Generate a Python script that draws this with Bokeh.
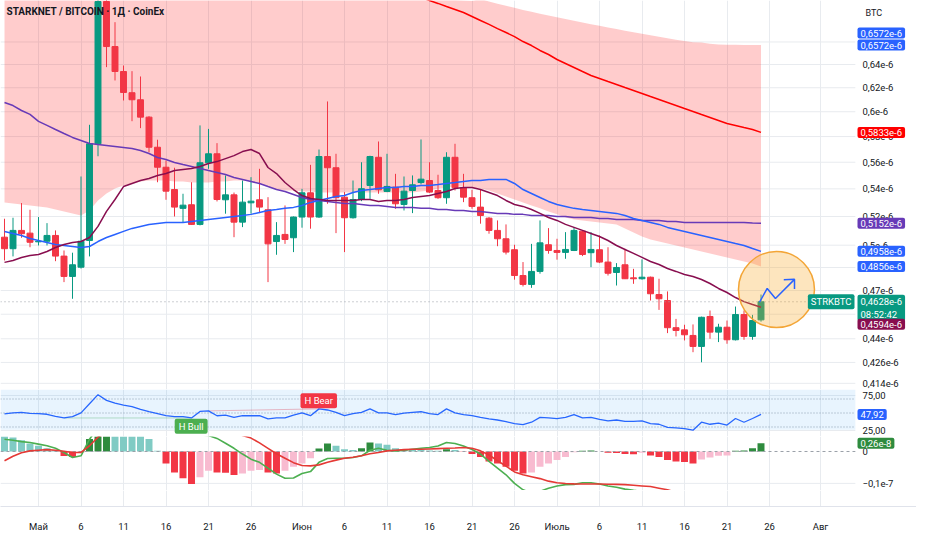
from bokeh.plotting import figure
from bokeh.layouts import column
from bokeh.models import Range1d, FixedTicker, Grid, Label, BoxAnnotation, ColumnDataSource
from bokeh.embed import file_html
from bokeh.resources import INLINE

# ---------------- data (prices in units of 1e-6 BTC) ----------------
# day index relative to 1 May (0 = 1 May ... 85 = 25 July)
day = list(range(-4, 86))

open_ = [0.5055, 0.4976, 0.5102, 0.5083, 0.5023, 0.5027, 0.5067, 0.4926, 0.4791, 0.4852,
         0.5032, 0.5743, 0.6975, 0.6559, 0.6339, 0.6158, 0.6099, 0.5956, 0.5716, 0.5562,
         0.5395, 0.5258, 0.5284, 0.5144, 0.5596, 0.5665, 0.5320, 0.5356, 0.5160, 0.5298,
         0.5320, 0.5248, 0.5025, 0.5074, 0.5051, 0.5196, 0.5371, 0.5196, 0.5644, 0.5558,
         0.5339, 0.5191, 0.5322, 0.5425, 0.5638, 0.5381, 0.5413, 0.5286, 0.5388, 0.5447,
         0.5462, 0.5388, 0.5335, 0.5638, 0.5408, 0.5335, 0.5267, 0.5188, 0.5102, 0.5044,
         0.4969, 0.4797, 0.4739, 0.4824, 0.5003, 0.4964, 0.4951, 0.4964, 0.5097, 0.4949,
         0.4969, 0.4886, 0.4817, 0.4868, 0.4782, 0.4776, 0.4786, 0.4674, 0.4636, 0.4467,
         0.4454, 0.4420, 0.4354, 0.4536, 0.4440, 0.4470, 0.4394, 0.4548, 0.4414, 0.4515]
high = [0.5184, 0.5191, 0.5296, 0.5248, 0.5196, 0.5153, 0.5102, 0.4964, 0.4949, 0.5492,
        0.5894, 0.7400, 0.7050, 0.6781, 0.6391, 0.6342, 0.6296, 0.5964, 0.5775, 0.5613,
        0.5558, 0.5364, 0.5449, 0.5889, 0.5861, 0.5748, 0.5500, 0.5373, 0.5462, 0.5487,
        0.5550, 0.5339, 0.5160, 0.5279, 0.5200, 0.5400, 0.5580, 0.5698, 0.6085, 0.5665,
        0.5376, 0.5462, 0.5600, 0.5650, 0.5761, 0.5665, 0.5512, 0.5492, 0.5500, 0.5777,
        0.5600, 0.5505, 0.5677, 0.5743, 0.5512, 0.5393, 0.5393, 0.5196, 0.5172, 0.5144,
        0.5003, 0.4886, 0.5009, 0.5172, 0.5118, 0.5044, 0.5090, 0.5125, 0.5100, 0.5090,
        0.5067, 0.4986, 0.4879, 0.4975, 0.4841, 0.4904, 0.4790, 0.4776, 0.4694, 0.4521,
        0.4485, 0.4487, 0.4535, 0.4573, 0.4491, 0.4511, 0.4598, 0.4573, 0.4546, 0.4674]
low = [0.4897, 0.4924, 0.5051, 0.4986, 0.4998, 0.4998, 0.4892, 0.4754, 0.4647, 0.4843,
       0.4924, 0.5646, 0.6377, 0.6262, 0.6093, 0.5923, 0.5867, 0.5677, 0.5449, 0.5320,
       0.5200, 0.5160, 0.5141, 0.5137, 0.5550, 0.5308, 0.5220, 0.5055, 0.5125, 0.5220,
       0.5224, 0.4754, 0.4935, 0.5009, 0.4953, 0.5121, 0.5114, 0.5190, 0.5291, 0.5083,
       0.4953, 0.5185, 0.5310, 0.5327, 0.5364, 0.5376, 0.5255, 0.5243, 0.5224, 0.5433,
       0.5370, 0.5327, 0.5291, 0.5388, 0.5303, 0.5255, 0.5149, 0.5079, 0.4993, 0.4937,
       0.4770, 0.4726, 0.4717, 0.4809, 0.4942, 0.4902, 0.4908, 0.4960, 0.4926, 0.4852,
       0.4879, 0.4797, 0.4732, 0.4774, 0.4743, 0.4770, 0.4636, 0.4577, 0.4434, 0.4414,
       0.4390, 0.4320, 0.4261, 0.4400, 0.4380, 0.4370, 0.4390, 0.4394, 0.4394, 0.4504]
close = [0.4976, 0.5102, 0.5079, 0.5020, 0.5027, 0.5067, 0.4926, 0.4791, 0.4868, 0.5027,
         0.5743, 0.6975, 0.6559, 0.6339, 0.6160, 0.6099, 0.5956, 0.5716, 0.5562, 0.5383,
         0.5267, 0.5281, 0.5144, 0.5596, 0.5665, 0.5322, 0.5356, 0.5160, 0.5303, 0.5310,
         0.5267, 0.5009, 0.5067, 0.5039, 0.5196, 0.5371, 0.5196, 0.5644, 0.5558, 0.5335,
         0.5191, 0.5322, 0.5401, 0.5644, 0.5393, 0.5418, 0.5291, 0.5383, 0.5430, 0.5472,
         0.5376, 0.5335, 0.5638, 0.5408, 0.5339, 0.5272, 0.5207, 0.5102, 0.5044, 0.4953,
         0.4797, 0.4739, 0.4824, 0.5016, 0.4964, 0.4951, 0.4971, 0.5102, 0.4937, 0.4971,
         0.4886, 0.4812, 0.4850, 0.4776, 0.4776, 0.4786, 0.4679, 0.4647, 0.4467, 0.4450,
         0.4424, 0.4354, 0.4531, 0.4440, 0.4470, 0.4394, 0.4548, 0.4414, 0.4511, 0.4628]

ma_short = [0.4884, 0.4897, 0.4917, 0.4930, 0.4937, 0.4957, 0.4984, 0.5005, 0.5018, 0.5025,
            0.5053, 0.5130, 0.5236, 0.5322, 0.5417, 0.5440, 0.5462, 0.5477, 0.5500, 0.5514,
            0.5537, 0.5545, 0.5552, 0.5567, 0.5590, 0.5605, 0.5628, 0.5651, 0.5682, 0.5698,
            0.5667, 0.5560, 0.5514, 0.5447, 0.5395, 0.5351, 0.5329, 0.5322, 0.5315, 0.5315,
            0.5315, 0.5315, 0.5322, 0.5322, 0.5308, 0.5315, 0.5315, 0.5322, 0.5337, 0.5344,
            0.5351, 0.5366, 0.5381, 0.5403, 0.5410, 0.5410, 0.5395, 0.5373, 0.5351, 0.5315,
            0.5286, 0.5272, 0.5250, 0.5222, 0.5193, 0.5172, 0.5144, 0.5123, 0.5102, 0.5081,
            0.5060, 0.5032, 0.4998, 0.4971, 0.4944, 0.4917, 0.4890, 0.4870, 0.4843, 0.4824,
            0.4804, 0.4791, 0.4771, 0.4745, 0.4713, 0.4687, 0.4655, 0.4629, 0.4611, 0.4594]
ma_mid = [0.5095, 0.5081, 0.5067, 0.5046, 0.5032, 0.5018, 0.5005, 0.4998, 0.4991, 0.4984,
          0.4991, 0.5025, 0.5053, 0.5074, 0.5095, 0.5116, 0.5130, 0.5144, 0.5151, 0.5158,
          0.5158, 0.5158, 0.5165, 0.5172, 0.5179, 0.5186, 0.5193, 0.5200, 0.5207, 0.5215,
          0.5229, 0.5243, 0.5250, 0.5258, 0.5265, 0.5279, 0.5301, 0.5315, 0.5330, 0.5344,
          0.5351, 0.5373, 0.5388, 0.5395, 0.5403, 0.5410, 0.5410, 0.5417, 0.5417, 0.5425,
          0.5425, 0.5432, 0.5440, 0.5447, 0.5455, 0.5462, 0.5462, 0.5470, 0.5470, 0.5470,
          0.5440, 0.5395, 0.5366, 0.5337, 0.5308, 0.5286, 0.5272, 0.5258, 0.5250, 0.5243,
          0.5236, 0.5229, 0.5222, 0.5207, 0.5186, 0.5172, 0.5158, 0.5144, 0.5123, 0.5109,
          0.5095, 0.5081, 0.5067, 0.5053, 0.5039, 0.5025, 0.5011, 0.4998, 0.4977, 0.4958]
ma_long = [0.6076, 0.6051, 0.6010, 0.5978, 0.5921, 0.5889, 0.5856, 0.5824, 0.5793, 0.5769,
           0.5745, 0.5737, 0.5730, 0.5722, 0.5714, 0.5706, 0.5690, 0.5667, 0.5636, 0.5621,
           0.5598, 0.5582, 0.5567, 0.5552, 0.5537, 0.5522, 0.5507, 0.5485, 0.5470, 0.5455,
           0.5440, 0.5417, 0.5395, 0.5381, 0.5359, 0.5337, 0.5322, 0.5315, 0.5308, 0.5301,
           0.5293, 0.5293, 0.5286, 0.5279, 0.5279, 0.5272, 0.5265, 0.5265, 0.5265, 0.5258,
           0.5258, 0.5250, 0.5250, 0.5243, 0.5243, 0.5236, 0.5236, 0.5229, 0.5222, 0.5222,
           0.5215, 0.5215, 0.5207, 0.5207, 0.5207, 0.5200, 0.5200, 0.5193, 0.5193, 0.5193,
           0.5186, 0.5186, 0.5179, 0.5179, 0.5179, 0.5172, 0.5172, 0.5172, 0.5165, 0.5165,
           0.5158, 0.5158, 0.5158, 0.5158, 0.5158, 0.5158, 0.5158, 0.5158, 0.5154, 0.5152]
ma200_day = list(range(44, 86))
ma200 = [0.7040, 0.7014, 0.6985, 0.6957, 0.6928, 0.6900, 0.6871, 0.6834, 0.6797, 0.6760,
         0.6722, 0.6686, 0.6649, 0.6604, 0.6568, 0.6524, 0.6488, 0.6444, 0.6409, 0.6374,
         0.6339, 0.6305, 0.6279, 0.6253, 0.6228, 0.6202, 0.6177, 0.6152, 0.6126, 0.6101,
         0.6076, 0.6051, 0.6026, 0.6002, 0.5977, 0.5953, 0.5929, 0.5905, 0.5889, 0.5872,
         0.5856, 0.5833]
band_lower = [0.5301, 0.5293, 0.5286, 0.5279, 0.5272, 0.5265, 0.5250, 0.5236, 0.5222, 0.5207,
              0.5243, 0.5315, 0.5366, 0.5403, 0.5425, 0.5440, 0.5455, 0.5462, 0.5462, 0.5462,
              0.5455, 0.5455, 0.5447, 0.5447, 0.5447, 0.5455, 0.5455, 0.5462, 0.5462, 0.5455,
              0.5440, 0.5417, 0.5395, 0.5388, 0.5388, 0.5381, 0.5381, 0.5373, 0.5373, 0.5373,
              0.5373, 0.5373, 0.5373, 0.5373, 0.5373, 0.5373, 0.5373, 0.5373, 0.5373, 0.5381,
              0.5388, 0.5403, 0.5410, 0.5417, 0.5417, 0.5410, 0.5403, 0.5388, 0.5366, 0.5344,
              0.5322, 0.5301, 0.5279, 0.5258, 0.5236, 0.5215, 0.5193, 0.5179, 0.5172, 0.5165,
              0.5158, 0.5151, 0.5144, 0.5116, 0.5088, 0.5060, 0.5039, 0.5025, 0.5011, 0.4998,
              0.4984, 0.4971, 0.4957, 0.4944, 0.4930, 0.4917, 0.4904, 0.4890, 0.4877, 0.4856]
band_upper = [0.790, 0.788, 0.786, 0.784, 0.782, 0.780, 0.778, 0.776, 0.774, 0.772,
              0.770, 0.768, 0.766, 0.764, 0.762, 0.760, 0.758, 0.756, 0.754, 0.752,
              0.750, 0.748, 0.746, 0.744, 0.742, 0.740, 0.738, 0.736, 0.734, 0.732,
              0.730, 0.728, 0.726, 0.724, 0.722, 0.720, 0.718, 0.716, 0.714, 0.712,
              0.710, 0.709, 0.708, 0.707, 0.706, 0.705, 0.704, 0.703, 0.702, 0.701,
              0.7005, 0.7000, 0.6995, 0.6990, 0.6985, 0.6980, 0.7000, 0.6975, 0.6955, 0.6935,
              0.6915, 0.6895, 0.6878, 0.6860, 0.6843, 0.6826, 0.6810, 0.6794, 0.6778, 0.6762,
              0.6747, 0.6732, 0.6717, 0.6702, 0.6688, 0.6674, 0.6660, 0.6647, 0.6634, 0.6621,
              0.6609, 0.6597, 0.6595, 0.6585, 0.6578, 0.6575, 0.6574, 0.6573, 0.6572, 0.6572]

rsi = [48.6, 50.2, 51.0, 49.4, 49.0, 48.2, 45.3, 42.9, 44.9, 50.2,
       63.2, 76.2, 68.1, 64.0, 61.2, 59.1, 55.1, 51.8, 49.0, 46.1,
       44.9, 44.9, 42.9, 52.2, 53.0, 46.1, 47.0, 43.7, 46.1, 46.1,
       46.1, 41.7, 42.9, 42.9, 47.0, 50.2, 46.1, 55.9, 54.3, 51.0,
       46.1, 49.0, 51.0, 55.9, 50.2, 50.2, 47.8, 49.8, 51.0, 51.8,
       49.0, 47.8, 55.9, 50.2, 47.8, 46.1, 43.7, 41.7, 40.0, 37.6,
       34.8, 33.5, 36.8, 43.7, 42.9, 42.1, 43.7, 47.8, 42.9, 43.7,
       40.9, 38.8, 40.0, 38.0, 38.0, 38.8, 34.8, 33.9, 29.5, 28.7,
       27.8, 25.4, 36.8, 33.9, 35.6, 32.7, 42.1, 36.8, 42.1, 47.92]

# MACD values in units of 1e-8
macd_hist = [0.48, 0.44, 0.35, 0.25, 0.18, 0.10, 0.04, -0.14, -0.17, -0.03,
             0.39, 0.62, 0.70, 0.66, 0.60, 0.55, 0.50, 0.39, 0.02, -0.375,
             -0.66, -0.84, -1.02, -0.81, -0.60, -0.66, -0.67, -0.74, -0.69, -0.60,
             -0.58, -0.66, -0.69, -0.60, -0.48, -0.375, -0.21, 0.09, 0.25, 0.18,
             0.07, 0.05, 0.10, 0.28, 0.25, 0.21, 0.10, 0.06, 0.055, 0.05,
             0.03, 0.02, 0.07, 0.05, -0.01, -0.08, -0.17, -0.31, -0.375, -0.48,
             -0.60, -0.69, -0.66, -0.48, -0.375, -0.27, -0.17, -0.02, 0.02, 0.03,
             0.0, -0.04, -0.045, -0.08, -0.085, -0.04, -0.125, -0.17, -0.27, -0.31,
             -0.33, -0.375, -0.25, -0.19, -0.135, -0.125, 0.02, 0.03, 0.10, 0.26]
macd_line = [0.385, 0.354, 0.31, 0.28, 0.23, 0.18, 0.10, -0.03, -0.19, -0.135,
             0.385, 0.75, 1.05, 1.20, 1.25, 1.25, 1.20, 1.10, 0.95, 0.80,
             0.68, 0.60, 0.55, 0.52, 0.50, 0.41, 0.26, 0.10, -0.08, -0.24,
             -0.34, -0.52, -0.71, -0.84, -0.83, -0.69, -0.63, -0.34, -0.22, -0.21,
             -0.21, -0.19, -0.135, 0.04, 0.10, 0.04, 0.02, 0.04, 0.07, 0.10,
             0.125, 0.17, 0.28, 0.25, 0.17, 0.06, -0.08, -0.31, -0.52, -0.73,
             -1.0, -1.2, -1.3, -1.25, -1.15, -1.08, -1.04, -1.03, -0.98, -0.98,
             -1.02, -1.08, -1.12, -1.18, -1.22, -1.25, -1.32, -1.40, -1.50, -1.58,
             -1.65, -1.72, -1.68, -1.65, -1.62, -1.60, -1.50, -1.45, -1.38, -1.25]
macd_signal = [-0.29, -0.15, -0.04, 0.02, 0.04, 0.06, 0.04, 0.01, -0.03, -0.03,
               0.18, 0.45, 0.60, 0.75, 0.88, 0.98, 1.05, 1.10, 1.12, 1.12,
               1.10, 1.07, 1.03, 0.98, 0.90, 0.80, 0.70, 0.60, 0.50, 0.42,
               0.27, 0.10, -0.07, -0.21, -0.35, -0.44, -0.45, -0.42, -0.34, -0.27,
               -0.21, -0.18, -0.135, -0.07, -0.03, 0.02, 0.04, 0.06, 0.07, 0.07,
               0.08, 0.09, 0.10, 0.11, 0.125, 0.10, 0.02, -0.11, -0.29, -0.46,
               -0.64, -0.73, -0.79, -0.85, -0.93, -0.98, -1.005, -1.015, -1.02, -1.02,
               -1.02, -1.025, -1.03, -1.04, -1.06, -1.08, -1.10, -1.15, -1.20, -1.28,
               -1.35, -1.42, -1.47, -1.52, -1.55, -1.58, -1.55, -1.52, -1.50, -1.48]

x_tick_days = [0, 5, 10, 15, 20, 25, 31, 36, 41, 46, 51, 56, 61, 66, 71, 76, 81, 86, 92]
x_tick_labels = ["Май", "6", "11", "16", "21", "26", "Июн", "6", "11", "16", "21", "26",
                 "Июль", "6", "11", "16", "21", "26", "Авг"]
price_ticks = [0.64, 0.62, 0.60, 0.58, 0.56, 0.54, 0.52, 0.50, 0.47, 0.44, 0.426, 0.414]
price_tick_labels = ["0,64e-6", "0,62e-6", "0,6e-6", "0,58e-6", "0,56e-6", "0,54e-6",
                     "0,52e-6", "0,5e-6", "0,47e-6", "0,44e-6", "0,426e-6", "0,414e-6"]
price_grid = [0.66, 0.64, 0.62, 0.60, 0.58, 0.56, 0.54, 0.52, 0.50, 0.485, 0.47, 0.455,
              0.44, 0.426, 0.414]
rsi_ticks = [25, 75]
rsi_tick_labels = ["25,00", "75,00"]
macd_ticks = [0, -1.0]
macd_tick_labels = ["0", "−0,1e-7"]

# ---------------- styling ----------------
FONT = "Roboto"
UP, DOWN = "#089981", "#f23645"
GRID_C = "#e8ebef"
TXT = "#131722"
W = 916
X_LEFT, X_RIGHT = -4.4706, 103.294     # full canvas width
AXIS_AT = 95.76                        # price scale starts here
GRID_END = 96.1
xr = Range1d(X_LEFT, X_RIGHT)


def make_fig(h, yr, ytype="linear", bottom=0, xaxis=False, yaxis=True):
    p = figure(width=W, height=h, x_range=xr, y_range=yr, y_axis_type=ytype,
               x_axis_location="below" if xaxis else None,
               y_axis_location="right" if yaxis else None,
               toolbar_location=None, output_backend="svg",
               min_border_left=0, min_border_right=0, min_border_top=0,
               min_border_bottom=bottom)
    p.outline_line_color = None
    p.background_fill_color = "white"
    p.border_fill_color = "white"
    p.xgrid.visible = False
    p.ygrid.visible = False
    p.add_layout(Grid(dimension=0, ticker=FixedTicker(ticks=x_tick_days),
                      grid_line_color=GRID_C))
    return p


def style_yaxis(p, ticks, labels, grid_levels):
    ax = p.yaxis[0]
    ax.fixed_location = AXIS_AT
    ax.ticker = FixedTicker(ticks=ticks)
    ax.major_label_overrides = dict(zip(ticks, labels))
    ax.axis_line_color = None
    ax.major_tick_line_color = None
    ax.minor_tick_line_color = None
    ax.major_tick_out = 0
    ax.major_tick_in = 0
    ax.major_label_standoff = 10
    ax.major_label_text_font = FONT
    ax.major_label_text_font_size = "9.5px"
    ax.major_label_text_color = TXT
    n = len(grid_levels)
    p.segment(x0=[X_LEFT] * n, x1=[GRID_END] * n, y0=grid_levels, y1=grid_levels,
              line_color=GRID_C, line_width=1, level="underlay")


def tag(p, text, y, color, yoff=0, x=857, baseline="middle", size="9.5px",
        pad=None, align="left"):
    p.add_layout(Label(x=x, y=y, x_units="screen", y_units="data", text=text,
                       text_color="white", text_font=FONT, text_font_size=size,
                       text_baseline=baseline, text_align=align,
                       background_fill_color=color, background_fill_alpha=1.0,
                       y_offset=yoff,
                       padding=pad or dict(left=3, right=3, top=2, bottom=2),
                       border_radius=2))


# ---------------- main price pane ----------------
H_MAIN = 389
pm = make_fig(H_MAIN, Range1d(0.41053, 0.69848), ytype="log")
style_yaxis(pm, price_ticks, price_tick_labels, price_grid)

pm.varea(x=day, y1=band_lower, y2=band_upper, fill_color="#ff0000", fill_alpha=0.2)

colors = [UP if c >= o else DOWN for o, c in zip(open_, close)]
src = ColumnDataSource(dict(x=day, o=open_, h=high, l=low, c=close,
                            top=[max(o, c) for o, c in zip(open_, close)],
                            bot=[min(o, c) for o, c in zip(open_, close)],
                            col=colors))
pm.segment(x0="x", y0="l", x1="x", y1="h", line_color="col", line_width=1, source=src)
pm.vbar(x="x", width=0.7, top="top", bottom="bot", fill_color="col", line_color="col",
        source=src)

pm.line(day, ma_long, line_color="#673ab7", line_width=1.5)
pm.line(day, ma_mid, line_color="#2962ff", line_width=1.5)
pm.line(day, ma_short, line_color="#880e4f", line_width=1.5)
pm.line(ma200_day, ma200, line_color="#ff0000", line_width=1.5)

pm.segment(x0=[X_LEFT], x1=[GRID_END], y0=[close[-1]], y1=[close[-1]],
           line_color="#9aa0a8", line_dash="1 3", line_width=1)

# highlight circle + arrow annotation
pm.scatter([86.82], [0.4706], marker="circle", size=76, fill_color="#f7a928",
           fill_alpha=0.3, line_color="#f3a536", line_width=1.5)
pm.line([84.82, 85.73, 86.7, 88.94], [0.4625, 0.4713, 0.4649, 0.4772],
        line_color="#2962ff", line_width=1.5)
pm.line([87.68, 88.94, 88.94], [0.4770, 0.4772, 0.4710], line_color="#2962ff",
        line_width=1.5)

pm.add_layout(Label(x=6, y=H_MAIN - 11, x_units="screen", y_units="screen",
                    text="STARKNET / BITCOIN · 1Д · CoinEx", text_font=FONT,
                    text_font_size="10px", text_font_style="bold", text_color=TXT,
                    text_baseline="middle", text_align="left"))
pm.add_layout(Label(x=865, y=H_MAIN - 12, x_units="screen", y_units="screen", text="BTC",
                    text_font=FONT, text_font_size="9px", text_color=TXT,
                    text_baseline="middle", text_align="left"))

tag(pm, "0,6572e-6", 0.6572, "#2962ff", yoff=12)
tag(pm, "0,6572e-6", 0.6572, "#2962ff")
tag(pm, "0,5833e-6", ma200[-1], "#ff0000")
tag(pm, "0,5152e-6", ma_long[-1], "#673ab7")
tag(pm, "0,4958e-6", ma_mid[-1], "#2962ff")
tag(pm, "0,4856e-6", band_lower[-1], "#2962ff")
tag(pm, "0,4628e-6\n08:52:42", close[-1], UP, yoff=7, baseline="top",
    pad=dict(left=3, right=3, top=1, bottom=1))
tag(pm, "0,4594e-6", ma_short[-1], "#880e4f", yoff=-17)
tag(pm, "STRKBTC", close[-1], UP, x=854, align="right")

# ---------------- RSI pane ----------------
pr = make_fig(47, Range1d(16.4, 83.6))
style_yaxis(pr, rsi_ticks, rsi_tick_labels, rsi_ticks)
pr.add_layout(BoxAnnotation(bottom=26, top=83.6, left=X_LEFT, right=GRID_END,
                            fill_color="#2196f3", fill_alpha=0.1, line_color=None))
for lvl in (70, 50, 30):
    pr.segment(x0=[X_LEFT], x1=[GRID_END], y0=[lvl], y1=[lvl], line_color="#9aa0a8",
               line_dash="1 2", line_width=1)
pr.line([3, 18], [42.9, 42.9], line_color="#4caf50", line_alpha=0.35, line_width=1)
pr.line([20, 33], [53.0, 55.9], line_color="#f23645", line_alpha=0.35, line_width=1)
pr.line(day, rsi, line_color="#2962ff", line_width=1.3)
pr.add_layout(Label(x=17.96, y=30.9, text="H Bull", text_color="white", text_font=FONT,
                    text_font_size="9.5px", text_align="center", text_baseline="middle",
                    background_fill_color="#4caf50",
                    padding=dict(left=4, right=4, top=2, bottom=2), border_radius=2))
pr.add_layout(Label(x=32.97, y=67.6, text="H Bear", text_color="white", text_font=FONT,
                    text_font_size="9.5px", text_align="center", text_baseline="middle",
                    background_fill_color="#f23645",
                    padding=dict(left=4, right=4, top=2, bottom=2), border_radius=2))
tag(pr, "47,92", rsi[-1], "#2962ff")

# ---------------- MACD pane ----------------
pd_ = make_fig(54, Range1d(-1.223, 0.47))
style_yaxis(pd_, macd_ticks, macd_tick_labels, [-1.0])
hist_colors = []
for i, v in enumerate(macd_hist):
    prev = macd_hist[i - 1] if i > 0 else v + 0.01
    if v >= 0:
        hist_colors.append("#2e8b3e" if v > prev else "#80cbc4")
    else:
        hist_colors.append("#f23645" if v < prev else "#f8bbd0")
pd_.vbar(x=day, width=0.82, top=macd_hist, bottom=0, fill_color=hist_colors,
         line_color=None)
pd_.segment(x0=[X_LEFT], x1=[GRID_END], y0=[0], y1=[0], line_color="#9aa0a8",
            line_dash="3 3", line_width=1)
pd_.line(day, macd_line, line_color="#4caf50", line_width=1.6)
pd_.line(day, macd_signal, line_color="#e53935", line_width=1.6)
tag(pd_, "0,26e-8", macd_hist[-1], "#2e8b3e")

# ---------------- bottom pane with time axis ----------------
pb = make_fig(44, Range1d(0, 1), bottom=27, xaxis=True, yaxis=False)
xa = pb.xaxis[0]
xa.ticker = FixedTicker(ticks=x_tick_days)
xa.major_label_overrides = dict(zip(x_tick_days, x_tick_labels))
xa.axis_line_color = "#e0e3eb"
xa.major_tick_line_color = None
xa.minor_tick_line_color = None
xa.major_tick_out = 0
xa.major_tick_in = 0
xa.major_label_standoff = 14
xa.major_label_text_font = FONT
xa.major_label_text_font_size = "9.5px"
xa.major_label_text_color = TXT

layout = column(pm, pr, pd_, pb)
open("out.html", "w").write(file_html(layout, INLINE))
